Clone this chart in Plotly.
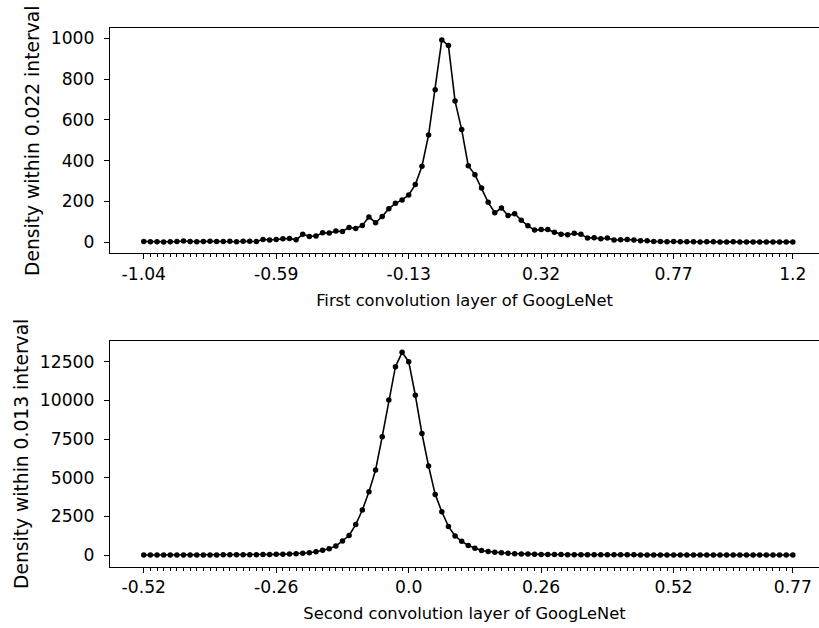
import plotly.graph_objects as go

# Histogram densities of convolution weights (one value per bin)
conv1_density = [
    3, 2, 2, 1, 2, 3, 5, 3, 2, 3, 4, 3, 3, 4, 2, 4, 4, 3,
    13, 10, 13, 16, 18, 11, 38, 28, 30, 46, 44, 54, 52, 72, 67, 82, 123, 95,
    126, 164, 190, 207, 231, 282, 372, 525, 748, 992, 964, 692,
    552, 374, 331, 266, 195, 144, 167, 130, 139, 107, 80, 59, 62, 62, 48, 39,
    36, 43, 38, 20, 21, 16, 20, 10, 11, 13, 10, 7, 7, 3,
    3, 2, 3, 2, 2, 2, 1, 2, 2, 1, 1, 2, 1, 1, 1, 1, 1, 1, 1, 1, 1,
]
conv2_density = [
    2, 2, 3, 3, 3, 4, 4, 5, 5, 6, 7, 8, 9, 10, 12, 14,
    18, 22, 28, 35, 42, 52, 65, 85, 110, 150, 215, 310,
    409, 582, 900, 1260, 1970, 2909, 4085, 5495, 7650, 10021, 12177, 13105,
    12500, 10330, 7855, 5754, 3920, 2800, 1850, 1228, 885, 620, 431, 295,
    230, 172, 148, 110, 88,
    70, 58, 48, 40, 35, 30, 26, 23, 20, 18, 16, 14, 13, 12, 11, 10, 9, 9,
    8, 8, 7, 7, 6, 6, 6, 5, 5, 5, 5, 4, 4, 4, 4, 4, 3, 3, 3, 3, 3, 3, 3, 3,
]

conv1_tick_pos = [0, 20, 40, 60, 80, 98]
conv1_tick_text = ["-1.04", "-0.59", "-0.13", "0.32", "0.77", "1.2"]
conv2_tick_pos = [0, 20, 40, 60, 80, 98]
conv2_tick_text = ["-0.52", "-0.26", "0.0", "0.26", "0.52", "0.77"]

conv1_yticks = [0, 200, 400, 600, 800, 1000]
conv2_yticks = [0, 2500, 5000, 7500, 10000, 12500]

W, H = 819, 628
FONT = "DejaVu Sans"


def py(px):
    return 1 - px / H


fig = go.Figure()
fig.add_trace(go.Scatter(
    x=list(range(len(conv1_density))), y=conv1_density,
    mode="lines+markers", line=dict(color="black", width=1.6),
    marker=dict(color="black", size=5.5), xaxis="x", yaxis="y",
    showlegend=False,
))
fig.add_trace(go.Scatter(
    x=list(range(len(conv2_density))), y=conv2_density,
    mode="lines+markers", line=dict(color="black", width=1.6),
    marker=dict(color="black", size=5.5), xaxis="x2", yaxis="y2",
    showlegend=False,
))

tickfont = dict(family=FONT, size=17.2, color="black")
xtitlefont = dict(family=FONT, size=16.3, color="black")
ytitlefont = dict(family=FONT, size=18.7, color="black")


def xaxis_cfg(n, pos, text, title, anchor):
    return dict(
        domain=[110 / W, 1], anchor=anchor, range=[-5.1, 101.95],
        tickmode="array", tickvals=pos, ticktext=text,
        ticks="outside", ticklen=5, tickwidth=1, tickcolor="black",
        showline=True, linecolor="black", linewidth=1.1, mirror=True,
        showgrid=False, zeroline=False, tickfont=tickfont,
        minor=dict(tickmode="array", tickvals=list(range(n)), ticks="outside",
                   ticklen=3, tickwidth=1, tickcolor="black", showgrid=False),
        title=dict(text=title, font=xtitlefont, standoff=11),
    )


def yaxis_cfg(rng, ticks, dom, title, anchor):
    return dict(
        domain=dom, anchor=anchor, range=rng,
        tickmode="array", tickvals=ticks, ticktext=[str(t) for t in ticks],
        ticks="outside", ticklen=5, tickwidth=1, tickcolor="black",
        showline=True, linecolor="black", linewidth=1.1, mirror=False,
        showgrid=False, zeroline=False, tickfont=tickfont,
        ticklabelstandoff=6,
        title=dict(text=title, font=ytitlefont, standoff=6),
    )


fig.update_layout(
    width=W, height=H,
    margin=dict(l=0, r=0, t=0, b=0),
    paper_bgcolor="white", plot_bgcolor="white",
    font=dict(family=FONT, color="black"),
    xaxis=xaxis_cfg(len(conv1_density), conv1_tick_pos, conv1_tick_text,
                    "First convolution layer of GoogLeNet", "y"),
    yaxis=yaxis_cfg([-55, 1049], conv1_yticks, [py(253.3), py(28.3)],
                    "Density within 0.022 interval", "x"),
    xaxis2=xaxis_cfg(len(conv2_density), conv2_tick_pos, conv2_tick_text,
                     "Second convolution layer of GoogLeNet", "y2"),
    yaxis2=yaxis_cfg([-756, 13838], conv2_yticks, [py(566.7), py(341)],
                     "Density within 0.013 interval", "x2"),
)

fig.write_html("out.html")
